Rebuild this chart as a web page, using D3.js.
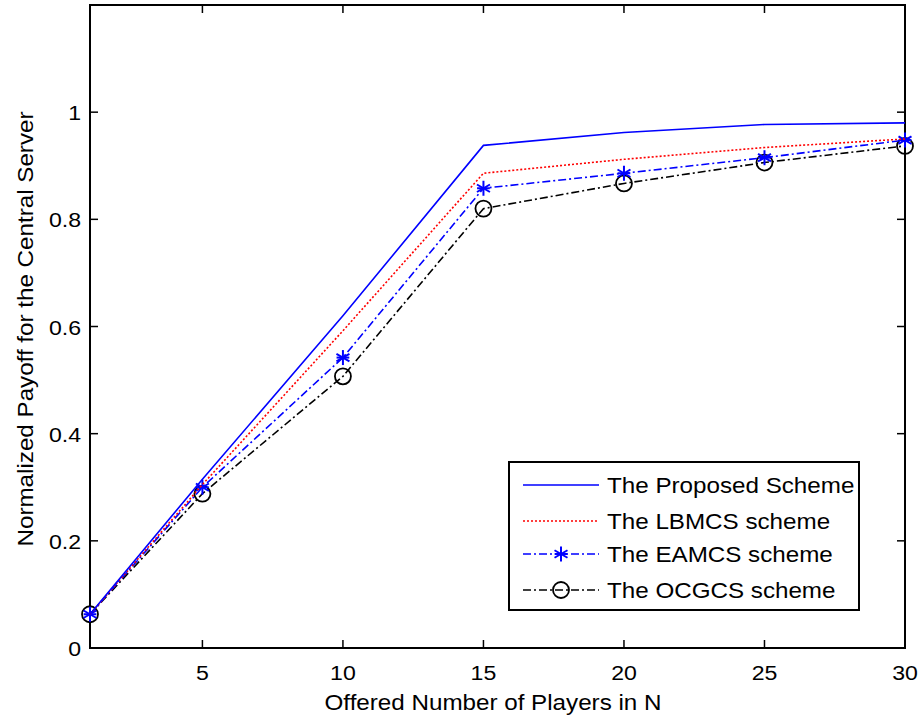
<!DOCTYPE html>
<html>
<head>
<meta charset="utf-8">
<script src="https://cdn.jsdelivr.net/npm/d3@7"></script>
<style>
  body { margin: 0; background: #fff; }
  text { font-family: "Liberation Sans", Arial, sans-serif; }
</style>
</head>
<body>
<div id="chart"></div>
<script>
// data
const players = [1, 5, 10, 15, 20, 25, 30];
const proposed = [0.063, 0.315, 0.620, 0.938, 0.962, 0.977, 0.980];
const lbmcs    = [0.063, 0.305, 0.592, 0.886, 0.912, 0.934, 0.950];
const eamcs    = [0.063, 0.300, 0.542, 0.858, 0.886, 0.915, 0.948];
const ocgcs    = [0.063, 0.288, 0.507, 0.820, 0.867, 0.906, 0.937];
const xTicks = [5, 10, 15, 20, 25, 30];
const yTicks = [0, 0.2, 0.4, 0.6, 0.8, 1];
const seriesNames = ["The Proposed Scheme", "The LBMCS scheme", "The EAMCS scheme", "The OCGCS scheme"];

const W = 923, H = 719;
const margin = {top: 5, right: 18, bottom: 71, left: 90};
const width = W - margin.left - margin.right,
      height = H - margin.top - margin.bottom;
const stretch = 1.1; // the original font is a bit wider than Liberation Sans

const svg = d3.select("#chart").append("svg")
    .attr("width", W).attr("height", H);
const g = svg.append("g")
    .attr("transform", "translate(" + margin.left + "," + margin.top + ")");

const x = d3.scaleLinear().domain([1, 30]).range([0, width]);
const y = d3.scaleLinear().domain([0, 1.2]).range([height, 0]);

function label(sel, tx, ty, str, size, anchor, rot) {
  return sel.append("text")
    .attr("transform", "translate(" + tx + "," + ty + ")" + (rot ? " rotate(" + rot + ")" : "") + " scale(" + stretch + ",1)")
    .attr("text-anchor", anchor).attr("font-size", size).text(str);
}

// ticks (inward, on all four sides)
const tickLen = 8;
xTicks.forEach(t => {
  g.append("line").attr("x1", x(t)).attr("x2", x(t))
    .attr("y1", height).attr("y2", height - tickLen)
    .attr("stroke", "#000").attr("stroke-width", 1.5);
  g.append("line").attr("x1", x(t)).attr("x2", x(t))
    .attr("y1", 0).attr("y2", tickLen)
    .attr("stroke", "#000").attr("stroke-width", 1.5);
  label(g, x(t), height + 32, t, 21, "middle");
});
yTicks.forEach(t => {
  g.append("line").attr("x1", 0).attr("x2", tickLen)
    .attr("y1", y(t)).attr("y2", y(t))
    .attr("stroke", "#000").attr("stroke-width", 1.5);
  g.append("line").attr("x1", width).attr("x2", width - tickLen)
    .attr("y1", y(t)).attr("y2", y(t))
    .attr("stroke", "#000").attr("stroke-width", 1.5);
  label(g, -9, y(t) + 8, t, 21, "end");
});

// frame
g.append("rect").attr("width", width).attr("height", height)
  .attr("fill", "none").attr("stroke", "#000").attr("stroke-width", 2);

// axis labels
label(svg, 493, 710, "Offered Number of Players in N", 22, "middle");
label(svg, 33, 329, "Normalized Payoff for the Central Server", 22, "middle", -90);

const line = d3.line().x((d, i) => x(players[i])).y(d => y(d));

const styles = [
  {data: proposed, color: "#0000ff", dash: null, marker: null},
  {data: lbmcs, color: "#ff0000", dash: "2,2", marker: null},
  {data: eamcs, color: "#0000ff", dash: "8,3,2,3", marker: "star"},
  {data: ocgcs, color: "#000000", dash: "8,3,2,3", marker: "circle"}
];

function drawMarker(sel, type, color, cx, cy) {
  if (type === "circle") {
    sel.append("circle").attr("cx", cx).attr("cy", cy).attr("r", 8)
      .attr("fill", "none").attr("stroke", color).attr("stroke-width", 1.8);
  } else if (type === "star") {
    const r = 7.5;
    [0, 60, 120].forEach(a => {
      const rad = (a + 90) * Math.PI / 180;
      sel.append("line")
        .attr("x1", cx - r * Math.cos(rad)).attr("y1", cy - r * Math.sin(rad))
        .attr("x2", cx + r * Math.cos(rad)).attr("y2", cy + r * Math.sin(rad))
        .attr("stroke", color).attr("stroke-width", 2);
    });
    sel.append("line").attr("x1", cx - r * 0.85).attr("x2", cx + r * 0.85)
      .attr("y1", cy).attr("y2", cy).attr("stroke", color).attr("stroke-width", 2);
  }
}

// draw series in reverse so proposed sits on top near the origin
styles.slice().reverse().forEach(s => {
  g.append("path").datum(s.data)
    .attr("d", line).attr("fill", "none")
    .attr("stroke", s.color).attr("stroke-width", 1.6)
    .attr("stroke-dasharray", s.dash);
  if (s.marker) {
    s.data.forEach((v, i) => drawMarker(g, s.marker, s.color, x(players[i]), y(v)));
  }
});

// legend
const lg = svg.append("g").attr("transform", "translate(509,462)");
lg.append("rect").attr("width", 350).attr("height", 148)
  .attr("fill", "#fff").attr("stroke", "#000").attr("stroke-width", 2);
const rowY = [23, 59, 92, 128];
styles.forEach((s, i) => {
  lg.append("line").attr("x1", 14).attr("x2", 90)
    .attr("y1", rowY[i]).attr("y2", rowY[i])
    .attr("stroke", s.color).attr("stroke-width", 1.6)
    .attr("stroke-dasharray", s.dash);
  if (s.marker) drawMarker(lg, s.marker, s.color, 52, rowY[i]);
  label(lg, 98, rowY[i] + 8, seriesNames[i], 22, "start");
});
</script>
</body>
</html>
